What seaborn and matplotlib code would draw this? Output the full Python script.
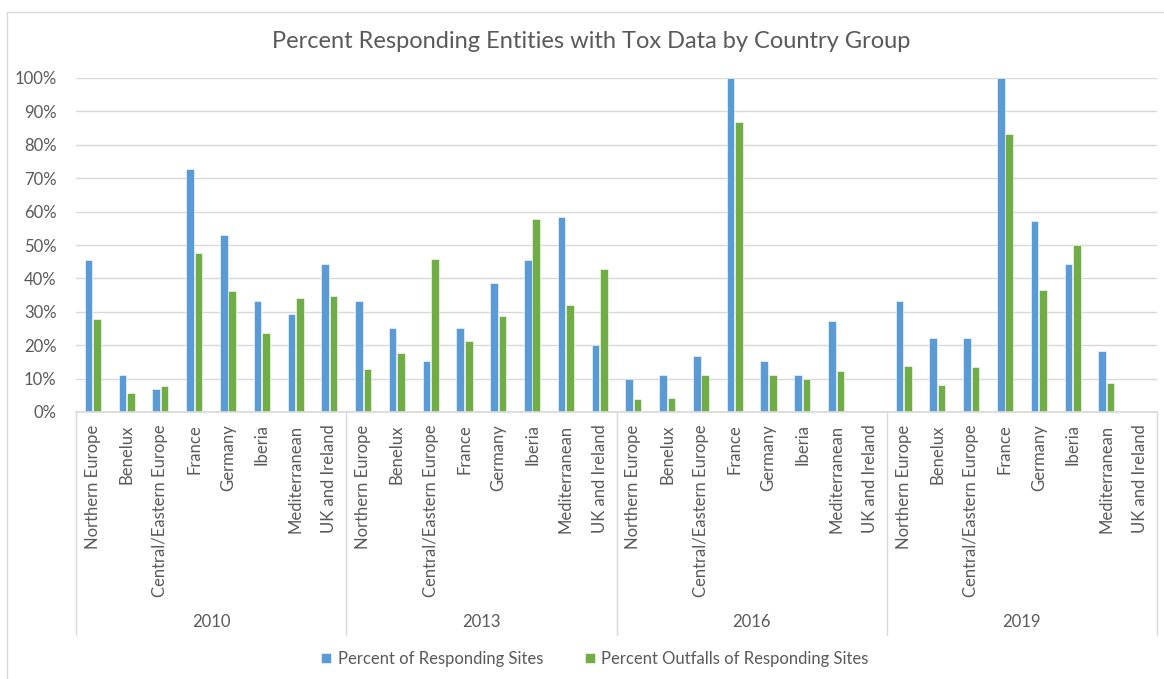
import numpy as np
import pandas as pd
import seaborn as sns
import matplotlib.pyplot as plt
from matplotlib.lines import Line2D
from matplotlib.ticker import PercentFormatter

regions = ["Northern Europe", "Benelux", "Central/Eastern Europe", "France",
           "Germany", "Iberia", "Mediterranean", "UK and Ireland"]
years = ["2010", "2013", "2016", "2019"]
series = ["Percent of Responding Sites", "Percent Outfalls of Responding Sites"]

sites_2010 = [45.5, 11.1, 7.0, 72.7, 52.9, 33.3, 29.2, 44.4]
outfalls_2010 = [27.9, 5.6, 7.9, 47.6, 36.1, 23.8, 34.2, 34.6]
sites_2013 = [33.3, 25.0, 15.4, 25.0, 38.5, 45.5, 58.3, 20.0]
outfalls_2013 = [12.9, 17.6, 45.8, 21.2, 28.6, 57.9, 31.9, 42.9]
sites_2016 = [10.0, 11.1, 16.7, 100.0, 15.4, 11.1, 27.3, 0.0]
outfalls_2016 = [3.8, 4.1, 11.1, 86.7, 11.1, 10.0, 12.4, 0.0]
sites_2019 = [33.3, 22.2, 22.2, 100.0, 57.1, 44.4, 18.2, 0.0]
outfalls_2019 = [13.8, 8.2, 13.4, 83.3, 36.4, 50.0, 8.7, 0.0]

sites = {"2010": sites_2010, "2013": sites_2013, "2016": sites_2016, "2019": sites_2019}
outfalls = {"2010": outfalls_2010, "2013": outfalls_2013, "2016": outfalls_2016, "2019": outfalls_2019}

rows = []
for y in years:
    for i, r in enumerate(regions):
        slot = y + "|" + r
        rows.append([slot, series[0], sites[y][i] / 100])
        rows.append([slot, series[1], outfalls[y][i] / 100])
df = pd.DataFrame(rows, columns=["slot", "series", "value"])
slots = [y + "|" + r for y in years for r in regions]

sns.set_theme(style="white")
plt.rcParams['font.family'] = ['Lato', 'DejaVu Sans']
grey = "#595959"
line_c = "#D9D9D9"
fs = 12

fig = plt.figure(figsize=(11.64, 6.79), dpi=100)
ax = fig.add_axes([76 / 1164, 1 - 412 / 679, (1157 - 76) / 1164, (412 - 78) / 679])

sns.barplot(data=df, x="slot", y="value", hue="series", order=slots, hue_order=series,
            palette=["#5B9BD5", "#70AD47"], saturation=1, width=0.5, gap=0.1, ax=ax,
            edgecolor="white", linewidth=0.4)

ax.set_ylim(0, 1.0)
ax.set_yticks(np.arange(0, 1.01, 0.1))
ax.yaxis.set_major_formatter(PercentFormatter(1.0, decimals=0))
ax.set_xlim(-0.5, len(slots) - 0.5)
ax.grid(axis="y", color=line_c, linewidth=1)
ax.set_axisbelow(True)
for s in ["left", "right", "top"]:
    ax.spines[s].set_visible(False)
ax.spines["bottom"].set_color(line_c)
ax.set_xlabel("")
ax.set_ylabel("")
ax.set_xticks(range(len(slots)))
ax.set_xticklabels([s.split("|")[1] for s in slots], rotation=90, color=grey, fontsize=fs)
ax.tick_params(axis="x", length=0, pad=9)
ax.tick_params(axis="y", length=0, labelcolor=grey, labelsize=fs, pad=14)

# year group separators and labels
sep_bottom = -(635 - 412) / (412 - 78)
for k in range(len(years) + 1):
    x = k * len(regions) - 0.5
    ax.add_line(Line2D([x, x], [0, sep_bottom], color=line_c, linewidth=1, clip_on=False))
for k, y in enumerate(years):
    xc = k * len(regions) + (len(regions) - 1) / 2
    ax.text(xc, -(622 - 412) / (412 - 78), y, ha="center", va="center", color=grey, fontsize=fs)

handles, labels = ax.get_legend_handles_labels()
ax.get_legend().remove()
fig.legend(handles, labels, loc="center", bbox_to_anchor=(595 / 1164, 1 - 659 / 679), ncol=2,
           frameon=False, fontsize=fs, handlelength=0.6, handleheight=0.6, handletextpad=0.4,
           columnspacing=2.5, labelcolor=grey)

fig.text(591 / 1164, 1 - 42 / 679, "Percent Responding Entities with Tox Data by Country Group",
         ha="center", va="center", fontsize=17, color=grey)

# chart area border
fig.add_artist(Line2D([7 / 1164, 1], [1 - 12 / 679, 1 - 12 / 679], color=line_c, linewidth=1,
                      transform=fig.transFigure))
fig.add_artist(Line2D([7 / 1164, 7 / 1164], [0, 1 - 12 / 679], color=line_c, linewidth=1,
                      transform=fig.transFigure))

fig.savefig("out.png", dpi=100)
